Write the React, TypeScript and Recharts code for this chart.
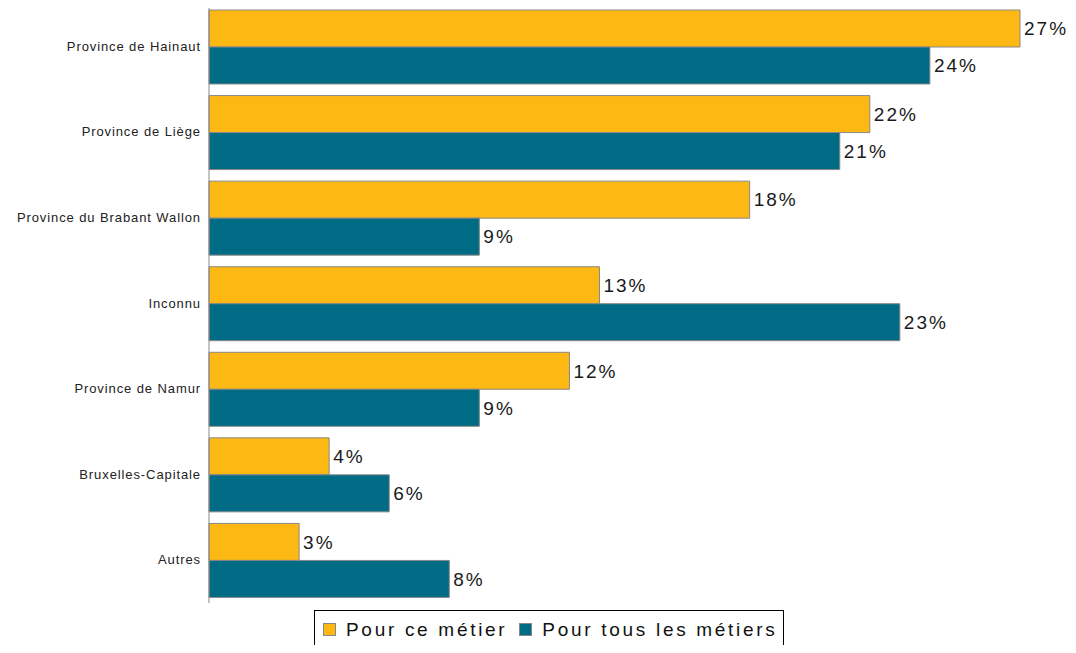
import React from 'react';
import { Bar, BarChart, LabelList, Legend, XAxis, YAxis } from 'recharts';

const regions = [
  'Province de Hainaut',
  'Province de Liège',
  'Province du Brabant Wallon',
  'Inconnu',
  'Province de Namur',
  'Bruxelles-Capitale',
  'Autres',
];
const pourCeMetier = [27, 22, 18, 13, 12, 4, 3];
const pourTousMetiers = [24, 21, 9, 23, 9, 6, 8];

const YELLOW = '#FDB813';
const TEAL = '#006B85';

const data = regions.map((name, i) => ({
  name,
  metier: pourCeMetier[i],
  tous: pourTousMetiers[i],
}));

const legendItems = [
  { label: 'Pour ce métier', color: YELLOW },
  { label: 'Pour tous les métiers', color: TEAL },
];

const ChartLegend = () => (
  <div
    style={{
      boxSizing: 'border-box',
      border: '1px solid #000',
      height: 39,
      display: 'flex',
      alignItems: 'center',
      paddingLeft: 8,
      fontFamily: 'Liberation Sans, Arial, sans-serif',
      fontSize: 19,
      letterSpacing: 2.7,
      color: '#111',
      whiteSpace: 'nowrap',
    }}
  >
    {legendItems.map((it) => (
      <span key={it.label} style={{ display: 'flex', alignItems: 'center', marginRight: 12 }}>
        <span
          style={{
            display: 'inline-block',
            width: 11,
            height: 11,
            background: it.color,
            border: '1px solid #888',
            marginRight: 10,
          }}
        />
        {it.label}
      </span>
    ))}
  </div>
);

const RegionTick = (props: any) => {
  const { x, y, payload } = props;
  return (
    <text
      x={x}
      y={y}
      dy={4}
      textAnchor="end"
      fill="#222"
      fontSize={13}
      letterSpacing={0.9}
      fontFamily="Liberation Sans, Arial, sans-serif"
    >
      {payload.value}
    </text>
  );
};

const labelStyle = {
  fontSize: 19,
  letterSpacing: 2,
  fill: '#1a1a1a',
  fontFamily: 'Liberation Sans, Arial, sans-serif',
};

export default function App() {
  return (
    <div style={{ margin: -8, background: '#fff' }}>
      <BarChart
        width={1076}
        height={653}
        data={data}
        layout="vertical"
        barCategoryGap={6}
        barGap={0}
        margin={{ top: 4, right: 56, left: 0, bottom: 50 }}
      >
        <XAxis type="number" hide domain={[0, 27]} />
        <YAxis
          type="category"
          dataKey="name"
          width={209}
          tickLine={false}
          axisLine={{ stroke: '#888' }}
          tick={<RegionTick />}
        />
        <Legend
          layout="horizontal"
          verticalAlign="middle"
          align="center"
          wrapperStyle={{ top: 610, left: 314, width: 470, height: 39 }}
          content={<ChartLegend />}
        />
        <Bar dataKey="metier" fill={YELLOW} stroke="#888" strokeWidth={1} isAnimationActive={false}>
          <LabelList dataKey="metier" position="right" offset={4} formatter={(v: any) => `${v}%`} style={labelStyle} />
        </Bar>
        <Bar dataKey="tous" fill={TEAL} stroke="#888" strokeWidth={1} isAnimationActive={false}>
          <LabelList dataKey="tous" position="right" offset={4} formatter={(v: any) => `${v}%`} style={labelStyle} />
        </Bar>
      </BarChart>
    </div>
  );
}
